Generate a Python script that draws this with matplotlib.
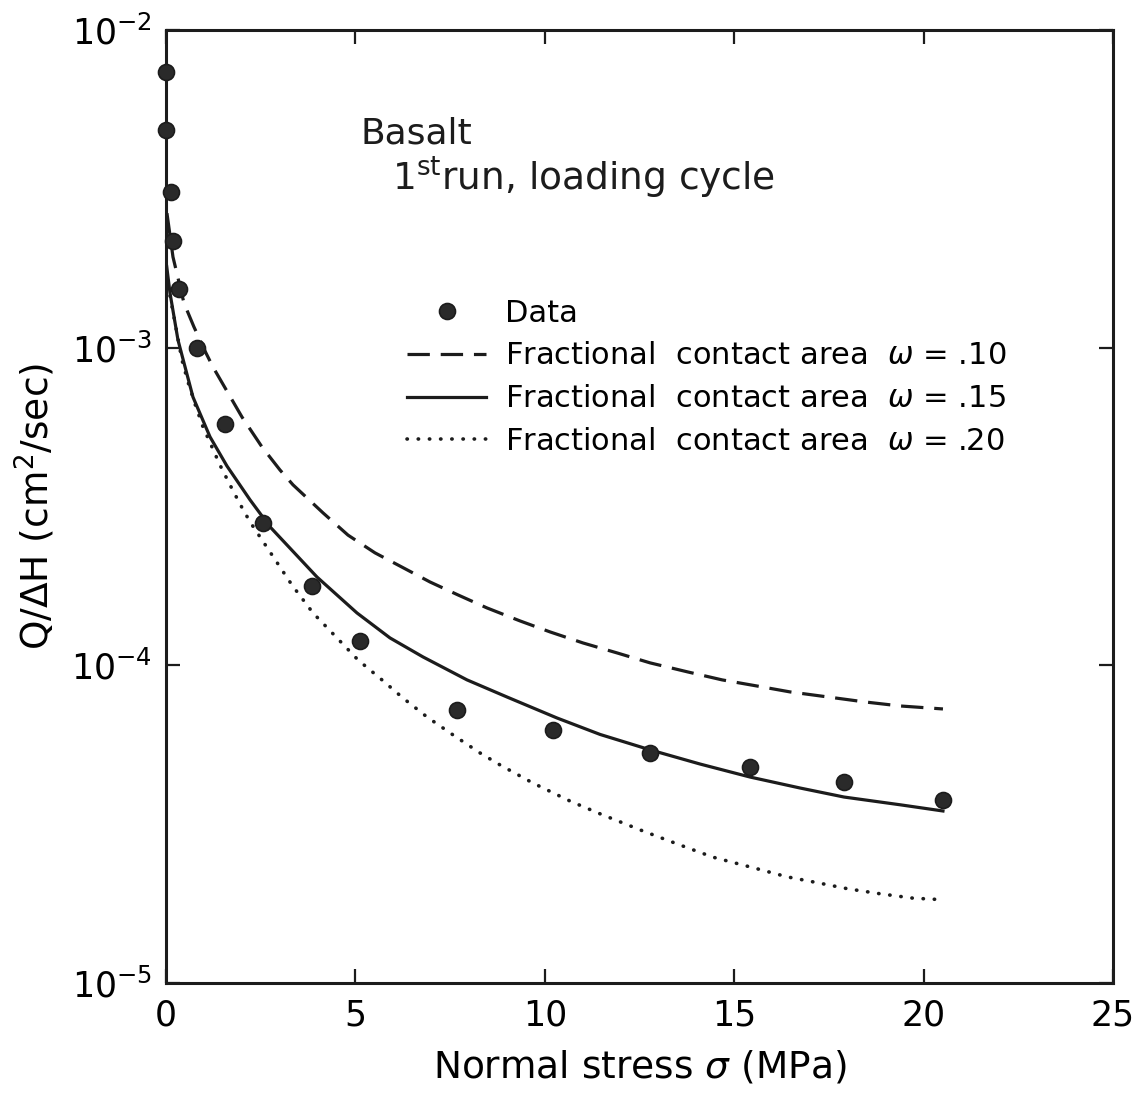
import matplotlib
matplotlib.use("Agg")
import matplotlib.pyplot as plt
from matplotlib.ticker import FixedLocator, NullLocator

# Measured data, normal stress (MPa) and Q/dH (cm2/sec)
stress_data = [0.0, 0.0, 0.13, 0.18, 0.34, 0.82, 1.56, 2.56, 3.85, 5.12,
               7.68, 10.22, 12.78, 15.42, 17.90, 20.51]
flow_data = [7.38e-3, 4.84e-3, 3.09e-3, 2.17e-3, 1.53e-3, 1.0e-3, 5.74e-4,
             2.80e-4, 1.78e-4, 1.19e-4, 7.24e-5, 6.26e-5, 5.30e-5, 4.79e-5,
             4.30e-5, 3.77e-5]

# Model curve, fractional contact area w = .10
stress_w10 = [0.026, 0.185, 0.475, 0.739, 1.056, 1.241, 2.006, 2.534, 3.01,
              3.353, 4.145, 4.805, 5.517, 6.257, 6.969, 7.708, 8.474, 9.345,
              10.14, 11.01, 11.91, 12.78, 13.78, 14.68, 15.60, 16.47, 17.48,
              18.45, 19.38, 20.51]
flow_w10 = [2.65e-3, 1.93e-3, 1.382e-3, 1.162e-3, 9.62e-4, 8.69e-4, 6.05e-4,
            4.87e-4, 4.12e-4, 3.70e-4, 3.02e-4, 2.57e-4, 2.26e-4, 2.03e-4,
            1.83e-4, 1.666e-4, 1.516e-4, 1.38e-4, 1.274e-4, 1.176e-4,
            1.094e-4, 1.018e-4, 9.53e-5, 9.0e-5, 8.61e-5, 8.25e-5, 7.95e-5,
            7.67e-5, 7.45e-5, 7.29e-5]

# w = .15
stress_w15 = [0.02, 0.106, 0.317, 0.713, 1.162, 1.61, 2.218, 2.745, 3.986,
              5.042, 5.913, 6.784, 7.946, 9.002, 10.32, 11.46, 12.78, 14.10,
              15.42, 16.74, 17.90, 19.38, 20.51]
flow_w15 = [1.8e-3, 1.487e-3, 1.057e-3, 6.99e-4, 5.24e-4, 4.24e-4, 3.32e-4,
            2.73e-4, 1.897e-4, 1.462e-4, 1.22e-4, 1.063e-4, 9.0e-5, 7.95e-5,
            6.83e-5, 6.06e-5, 5.42e-5, 4.89e-5, 4.45e-5, 4.11e-5, 3.85e-5,
            3.64e-5, 3.48e-5]

# w = .20
stress_w20 = [0.053, 0.422, 0.581, 0.766, 0.977, 1.214, 1.426, 1.69, 1.954,
              2.218, 3.326, 3.881, 4.514, 5.069, 5.702, 6.257, 6.89, 7.577,
              8.29, 8.817, 9.689, 10.665, 11.457, 12.592, 13.569, 14.44,
              15.60, 16.39, 17.19, 18.0, 18.85, 19.72, 20.49]
flow_w20 = [1.576e-3, 9.15e-4, 7.80e-4, 6.65e-4, 5.63e-4, 4.87e-4, 4.27e-4,
            3.70e-4, 3.22e-4, 2.83e-4, 1.79e-4, 1.462e-4, 1.22e-4, 1.04e-4,
            9.0e-5, 7.89e-5, 6.88e-5, 6.04e-5, 5.30e-5, 4.86e-5, 4.26e-5,
            3.74e-5, 3.41e-5, 3.01e-5, 2.72e-5, 2.49e-5, 2.29e-5, 2.16e-5,
            2.07e-5, 1.98e-5, 1.91e-5, 1.85e-5, 1.83e-5]

x_ticks = [0, 5, 10, 15, 20, 25]
y_ticks = [1e-5, 1e-4, 1e-3, 1e-2]

ink = "#1c1c1c"

plt.rcParams["font.family"] = ["DejaVu Sans"]
plt.rcParams["mathtext.fontset"] = "dejavusans"

fig = plt.figure(figsize=(11.43, 10.93), dpi=100)
ax = fig.add_axes([0.1452, 0.1006, 0.8286, 0.8720])

ax.plot(stress_w10, flow_w10, color=ink, lw=2.3, dashes=(7, 3.4),
        label="Fractional  contact area  $\\omega$ = .10")
ax.plot(stress_w15, flow_w15, color=ink, lw=2.3,
        label="Fractional  contact area  $\\omega$ = .15")
ax.plot(stress_w20, flow_w20, color=ink, lw=2.6, linestyle=(0, (0.1, 3.0)),
        dash_capstyle="round",
        label="Fractional  contact area  $\\omega$ = .20")
ax.plot(stress_data, flow_data, "o", color="#2a2a2a", mec=ink, mew=1.2,
        ms=11.5, clip_on=False, zorder=5, label="Data")

ax.set_yscale("log")
ax.set_xlim(0, 25)
ax.set_ylim(1e-5, 1e-2)
ax.xaxis.set_major_locator(FixedLocator(x_ticks))
ax.yaxis.set_major_locator(FixedLocator(y_ticks))
ax.yaxis.set_minor_locator(NullLocator())
ax.xaxis.set_minor_locator(NullLocator())

for side in ax.spines.values():
    side.set_linewidth(2.2)
    side.set_color(ink)
ax.tick_params(which="major", direction="in", top=True, right=True,
               length=10, width=1.6, color=ink, labelsize=25)
ax.tick_params(axis="x", pad=11)
ax.tick_params(axis="y", pad=10)

ax.set_xlabel("Normal stress $\\sigma$ (MPa)", fontsize=27, labelpad=12)
ax.set_ylabel("Q/$\\Delta$H (cm$^2$/sec)", fontsize=27, labelpad=10)

ax.text(0.205, 0.881, "Basalt", transform=ax.transAxes, fontsize=26,
        color=ink)
ax.text(0.239, 0.832, "1$^{\\rm st}$run, loading cycle", transform=ax.transAxes,
        fontsize=27, color=ink)

handles, labels = ax.get_legend_handles_labels()
order = [3, 0, 1, 2]
ax.legend([handles[i] for i in order], [labels[i] for i in order],
          loc="upper left", bbox_to_anchor=(0.2545, 0.718), frameon=False,
          fontsize=22, handlelength=2.6, handletextpad=0.6,
          labelspacing=0.45, borderpad=0, borderaxespad=0, numpoints=1)

fig.savefig("out.png", dpi=100)
